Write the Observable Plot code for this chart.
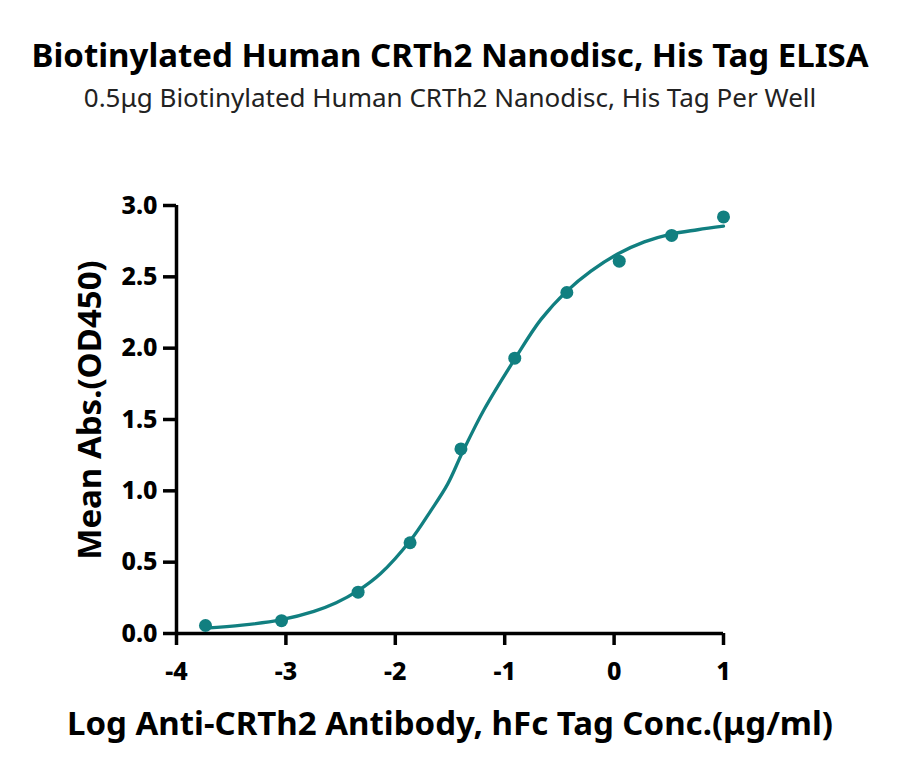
<!DOCTYPE html>
<html>
<head>
<meta charset="utf-8">
<script src="https://cdn.jsdelivr.net/npm/d3@7"></script>
<script src="https://cdn.jsdelivr.net/npm/@observablehq/plot@0.6"></script>
<style>
  html, body { margin: 0; padding: 0; background: #fff; }
  body { width: 900px; height: 776px; overflow: hidden; position: relative; font-family: "Noto Sans", sans-serif; }
  #head { height: 130px; position: relative; }
  .t { position: absolute; left: 0; width: 900px; text-align: center; line-height: 1; white-space: nowrap; }
  #title { top: 37.5px; font-weight: 700; font-size: 33px; color: #000; }
  #subtitle { top: 84px; font-weight: 400; font-size: 26px; color: #222; }
  #xlabel { top: 705.5px; font-weight: 700; font-size: 33px; color: #000; }
  #ylabel { position: absolute; left: -112px; top: 394px; width: 400px; text-align: center; line-height: 1; font-weight: 700; font-size: 33px; color: #000; transform: rotate(-90deg); transform-origin: 200px 16px; white-space: nowrap; }
  #chart svg { display: block; }
</style>
</head>
<body>
<div id="head">
  <div id="title" class="t">Biotinylated Human CRTh2 Nanodisc, His Tag ELISA</div>
  <div id="subtitle" class="t">0.5μg Biotinylated Human CRTh2 Nanodisc, His Tag Per Well</div>
</div>
<div id="chart"></div>
<div id="ylabel">Mean Abs.(OD450)</div>
<div id="xlabel" class="t">Log Anti-CRTh2 Antibody, hFc Tag Conc.(μg/ml)</div>
<script>
// Measured points: log concentration and mean absorbance
const logConc = [-3.735, -3.04, -2.34, -1.865, -1.40, -0.908, -0.432, 0.047, 0.526, 1.0];
const meanAbs = [0.056, 0.09, 0.29, 0.636, 1.294, 1.93, 2.39, 2.61, 2.79, 2.92];

// Fitted curve
const curveX = [-3.735, -3.4, -3.05, -2.744, -2.54, -2.34, -2.134, -1.859, -1.676, -1.523, -1.386, -1.188, -0.907, -0.67, -0.432, -0.212, 0.032, 0.276, 0.52, 0.764, 1.0];
const curveY = [0.037, 0.058, 0.095, 0.155, 0.215, 0.30, 0.42, 0.655, 0.86, 1.045, 1.27, 1.57, 1.925, 2.20, 2.40, 2.54, 2.66, 2.745, 2.80, 2.83, 2.855];

const xTicks = [-4, -3, -2, -1, 0, 1];
const yTicks = [0, 0.5, 1.0, 1.5, 2.0, 2.5, 3.0];

const teal = "#117f80";
const points = logConc.map((x, i) => ({x, y: meanAbs[i]}));
const curve = curveX.map((x, i) => ({x, y: curveY[i]}));

const plot = Plot.plot({
  width: 900,
  height: 575,
  marginTop: 75,
  marginBottom: 72,
  marginLeft: 176,
  marginRight: 177,
  style: {fontFamily: "'Noto Sans', sans-serif", color: "#000", background: "#fff"},
  x: {domain: [-4, 1], ticks: xTicks},
  y: {domain: [0, 3], ticks: yTicks},
  marks: [
    Plot.axisX({ticks: xTicks, tickSize: 12, tickPadding: 17, tickFormat: d => d < 0 ? "-" + Math.abs(d) : String(d), fontSize: 25, fontWeight: 800, strokeWidth: 3.5, label: null}),
    Plot.axisY({ticks: yTicks, tickSize: 13, tickPadding: 6, tickFormat: d => d.toFixed(1), fontSize: 25, fontWeight: 800, strokeWidth: 3.5, label: null}),
    Plot.ruleY([0], {stroke: "#000", strokeWidth: 3.5, x1: -4, x2: 1}),
    Plot.ruleX([-4], {stroke: "#000", strokeWidth: 3.5, y1: 0, y2: 3}),
    Plot.line(curve, {x: "x", y: "y", stroke: teal, strokeWidth: 3.3, curve: "catmull-rom"}),
    Plot.dot(points, {x: "x", y: "y", r: 6.5, fill: teal, stroke: "none"})
  ]
});
document.getElementById("chart").appendChild(plot);
</script>
</body>
</html>
